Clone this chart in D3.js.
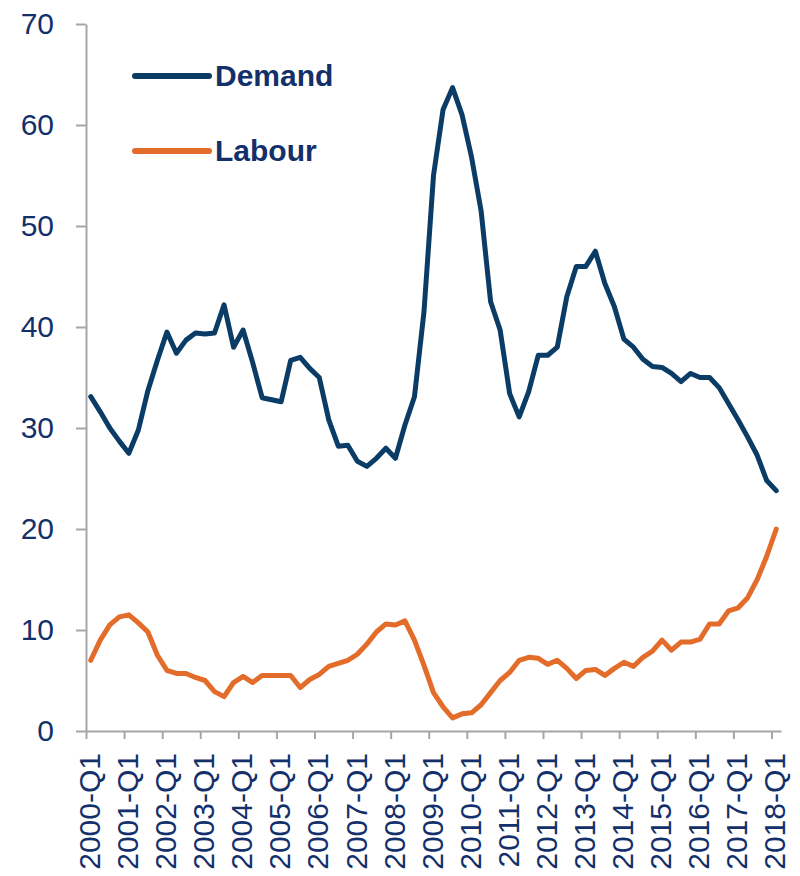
<!DOCTYPE html>
<html lang="en">
<head>
<meta charset="UTF-8">
<title>Demand vs Labour</title>
<script src="https://d3js.org/d3.v7.min.js"></script>
<style>
    body { margin: 0; background: #fff; }
    svg text { font-family: "Liberation Sans", Arial, sans-serif; fill: #13306b; }
    .axis path, .axis line { stroke: #a6a6a6; stroke-width: 2px; }
</style>
</head>
<body>
<div id="chart"></div>
<script>
// quarters 2000-Q1 .. 2018-Q1
const years = d3.range(2000, 2019);
const quarters = [];
years.forEach(y => [1, 2, 3, 4].forEach(q => {
    if (y < 2018 || q === 1) quarters.push(y + "-Q" + q);
}));

const demand = [
    33.1, 31.6, 30.0, 28.7, 27.5, 29.8, 33.7, 36.7, 39.5, 37.4,
    38.7, 39.4, 39.3, 39.4, 42.2, 38.0, 39.7, 36.5, 33.0, 32.8,
    32.6, 36.7, 37.0, 35.9, 35.0, 30.8, 28.2, 28.3, 26.7, 26.2,
    27.0, 28.0, 27.0, 30.3, 33.1, 41.5, 55.0, 61.5, 63.7, 61.0,
    56.8, 51.5, 42.5, 39.7, 33.4, 31.1, 33.6, 37.2, 37.2, 38.0,
    43.0, 46.0, 46.0, 47.5, 44.3, 42.0, 38.8, 38.0, 36.8, 36.1,
    36.0, 35.4, 34.6, 35.4, 35.0, 35.0, 34.0, 32.4, 30.8, 29.1,
    27.3, 24.8, 23.8
];

const labour = [
    7.0, 9.0, 10.5, 11.3, 11.5, 10.7, 9.8, 7.5, 6.0, 5.7,
    5.7, 5.3, 5.0, 3.9, 3.4, 4.8, 5.4, 4.8, 5.5, 5.5,
    5.5, 5.5, 4.3, 5.1, 5.6, 6.4, 6.7, 7.0, 7.6, 8.6,
    9.8, 10.6, 10.5, 10.9, 9.0, 6.5, 3.8, 2.4, 1.3, 1.7,
    1.8, 2.6, 3.8, 5.0, 5.8, 7.0, 7.3, 7.2, 6.6, 7.0,
    6.2, 5.2, 6.0, 6.1, 5.5, 6.2, 6.8, 6.4, 7.3, 7.9,
    9.0, 8.0, 8.8, 8.8, 9.1, 10.6, 10.6, 11.9, 12.2, 13.2,
    15.0, 17.3, 20.0
];

const yTicks = [0, 10, 20, 30, 40, 50, 60, 70];

const series = [
    { name: "Demand", values: demand, color: "#0b3c66" },
    { name: "Labour", values: labour, color: "#e36c2a" }
];

const W = 800, H = 876;
const plot = { left: 86, right: 781, top: 24, bottom: 731 };

const svg = d3.select("#chart").append("svg")
    .attr("width", W)
    .attr("height", H);

// categories sit between tick marks
const x = d3.scaleLinear().domain([0, quarters.length]).range([plot.left, plot.right]);
const y = d3.scaleLinear().domain([0, 70]).range([plot.bottom, plot.top]);

// y axis
const yAxis = svg.append("g")
    .attr("class", "axis")
    .attr("transform", `translate(${plot.left},0)`)
    .call(d3.axisLeft(y).tickValues(yTicks).tickSize(10).tickSizeOuter(0).tickPadding(22));
yAxis.selectAll("text").attr("font-size", 30);

// x axis
const xAxis = svg.append("g")
    .attr("class", "axis")
    .attr("transform", `translate(0,${plot.bottom})`)
    .call(d3.axisBottom(x)
        .tickValues(d3.range(0, quarters.length, 4))
        .tickFormat(i => quarters[i])
        .tickSize(8)
        .tickSizeOuter(0));
xAxis.selectAll("text")
    .attr("font-size", 30)
    .attr("text-anchor", "end")
    .attr("x", 0)
    .attr("y", 0)
    .attr("dy", "0.35em")
    .attr("transform", "translate(3,22) rotate(-90)");

// lines
const line = d3.line()
    .x((d, i) => x(i + 0.5))
    .y(d => y(d));

svg.selectAll(".series")
    .data(series)
    .enter()
    .append("path")
    .attr("class", "series")
    .attr("d", d => line(d.values))
    .attr("fill", "none")
    .attr("stroke", d => d.color)
    .attr("stroke-width", 5)
    .attr("stroke-linejoin", "round")
    .attr("stroke-linecap", "round");

// legend
const legend = svg.selectAll(".legend")
    .data(series)
    .enter()
    .append("g")
    .attr("class", "legend")
    .attr("transform", (d, i) => `translate(135,${76 + i * 75})`);

legend.append("line")
    .attr("x1", 0)
    .attr("x2", 74)
    .attr("stroke", d => d.color)
    .attr("stroke-width", 6)
    .attr("stroke-linecap", "round");

legend.append("text")
    .attr("x", 80)
    .attr("dy", "0.33em")
    .attr("font-size", 30)
    .attr("font-weight", "bold")
    .text(d => d.name);
</script>
</body>
</html>
